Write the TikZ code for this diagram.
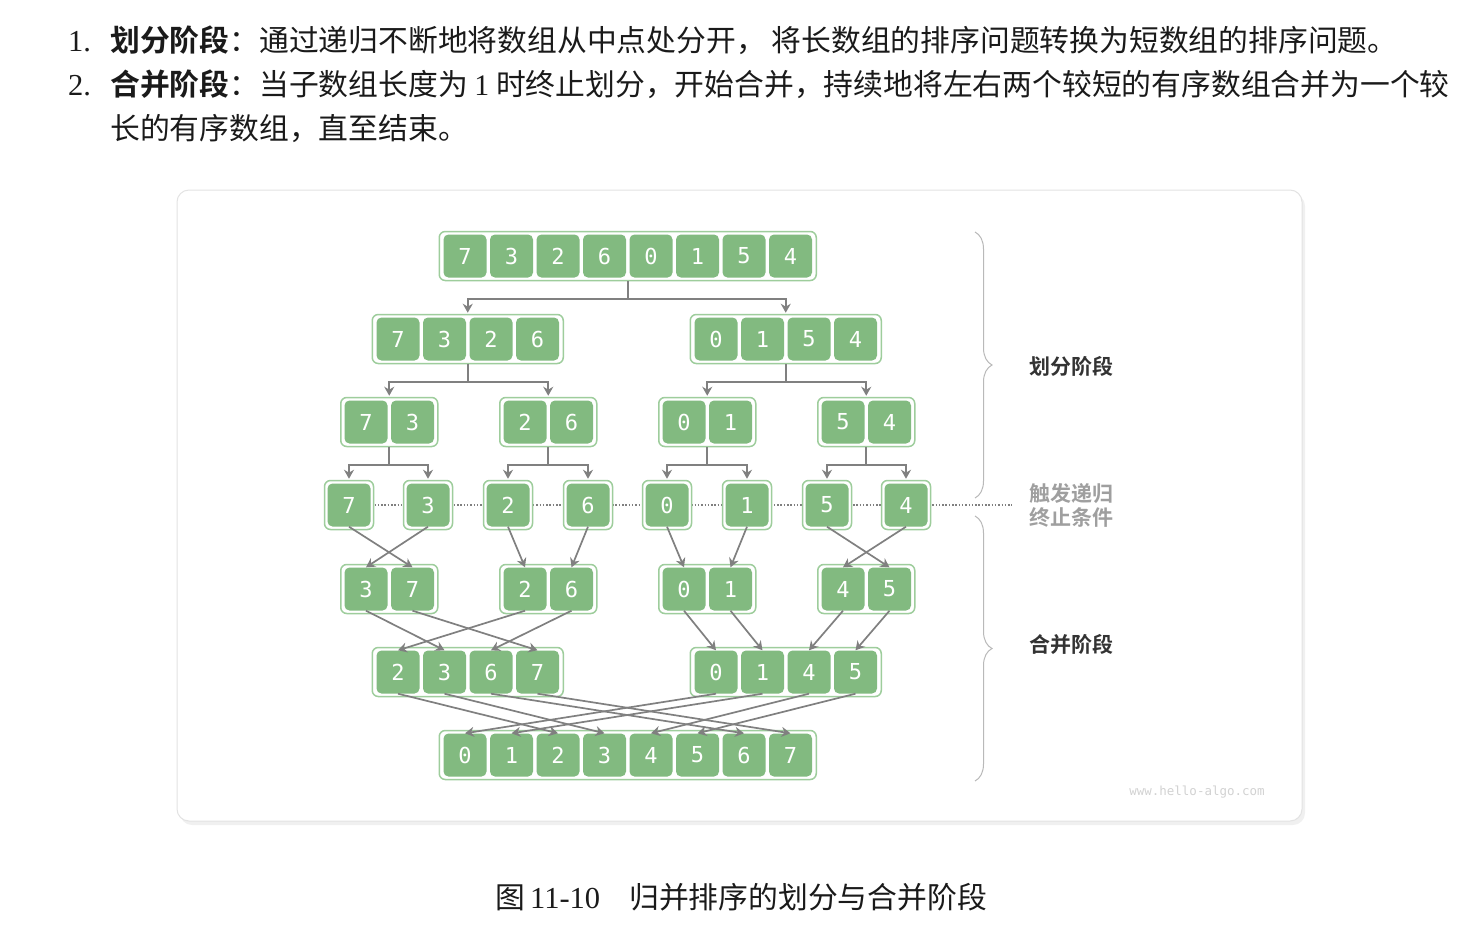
\documentclass[tikz,border=0pt]{standalone}
\usepackage{fontspec}
\setmainfont{Liberation Serif}
\newfontfamily\cjk{Noto Sans CJK SC}[BoldFont={Noto Sans CJK SC Bold}]
\newfontfamily\digitfont{DejaVu Sans Mono}
\usetikzlibrary{arrows.meta,decorations.pathreplacing}
\definecolor{cellgreen}{RGB}{130,186,128}
\definecolor{framegreen}{RGB}{158,205,156}
\definecolor{linegray}{RGB}{128,128,128}
\definecolor{bodytext}{RGB}{26,26,26}

\begin{document}
\begin{tikzpicture}[x=1pt,y=-1pt]

    \tikzset{
      cell/.style={
        fill=cellgreen,
        rounded corners=5,
        minimum width=43,
        minimum height=43,
        inner sep=0pt,
        text=white,
        font=\digitfont\fontsize{22}{22}\selectfont,
      },
      frame/.style={
        draw=framegreen,
        fill=white,
        line width=1.5,
        rounded corners=6,
        minimum height=49,
        inner sep=0pt,
      },
      conn/.style={
        draw=linegray,
        line width=1.7,
        -{Stealth[length=9,width=10]},
      },
      bodyline/.style={anchor=base west, inner sep=0pt, text=bodytext,
        font=\cjk\fontsize{29.8}{35}\selectfont},
      phase/.style={inner sep=0pt, font=\cjk\bfseries\fontsize{21}{25}\selectfont},
      phasebrace/.style={draw=gray!55, line width=1, decorate,
        decoration={brace, amplitude=17}},
    }
    \useasboundingbox (0,0) rectangle (1460,932);

    % text above the figure
    \node[bodyline, font=\fontsize{30.5}{35}\selectfont] (n1) at (68,51) {1.};
    \node[bodyline] (t1) at (110,51) {{\bfseries 划分阶段}：通过递归不断地将数组从中点处分开，\hspace{6pt}将长数组的排序问题转换为短数组的排序问题。};
    \node[bodyline, font=\fontsize{30.5}{35}\selectfont] (n2) at (68,95) {2.};
    \node[bodyline] (t2) at (110,95) {{\bfseries 合并阶段}：当子数组长度为 {\rmfamily 1} 时终止划分，开始合并，持续地将左右两个较短的有序数组合并为一个较};
    \node[bodyline] (t3) at (110,139) {长的有序数组，直至结束。};

    % panel
    \fill[gray!12, rounded corners=12] (180,194) rectangle (1305,825);
    \draw[gray!22, fill=white, line width=1, rounded corners=12] (177,190) rectangle (1302,821);

    % recursion end line
    \coordinate (dl) at (325,505);
    \coordinate (dr) at (1012,505);
    \draw[linegray, line width=1.3, dash pattern=on 1.5pt off 1.8pt] (dl) -- (dr);

    % frames
    \node[frame, minimum width=377] (fa) at (627.75,256) {};
    \foreach \n/\x in {fb1/467.75, fb2/785.75}
      \node[frame, minimum width=191] (\n) at (\x,339) {};
    \foreach \n/\x in {fc1/389.25, fc2/548.25, fc3/707.25, fc4/866.25}
      \node[frame, minimum width=97] (\n) at (\x,422) {};
    \foreach \n/\x in {fd1/349, fd2/428, fd3/508, fd4/588, fd5/667, fd6/747, fd7/827, fd8/906}
      \node[frame, minimum width=49] (\n) at (\x,505) {};
    \foreach \n/\x in {fe1/389.25, fe2/548.25, fe3/707.25, fe4/866.25}
      \node[frame, minimum width=97] (\n) at (\x,589) {};
    \foreach \n/\x in {ff1/467.75, ff2/785.75}
      \node[frame, minimum width=191] (\n) at (\x,672) {};
    \node[frame, minimum width=377] (fg) at (627.75,755) {};

    % cells
    \foreach \n/\x/\v in {a1/465/7, a2/511.5/3, a3/558/2, a4/604.5/6, a5/651/0, a6/697.5/1, a7/744/5, a8/790.5/4}
      \node[cell] (\n) at (\x,256) {\v};
    \foreach \n/\x/\v in {b1/398/7, b2/444.5/3, b3/491/2, b4/537.5/6, b5/716/0, b6/762.5/1, b7/809/5, b8/855.5/4}
      \node[cell] (\n) at (\x,339) {\v};
    \foreach \n/\x/\v in {c1/366/7, c2/412.5/3, c3/525/2, c4/571.5/6, c5/684/0, c6/730.5/1, c7/843/5, c8/889.5/4}
      \node[cell] (\n) at (\x,422) {\v};
    \foreach \n/\x/\v in {d1/349/7, d2/428/3, d3/508/2, d4/588/6, d5/667/0, d6/747/1, d7/827/5, d8/906/4}
      \node[cell] (\n) at (\x,505) {\v};
    \foreach \n/\x/\v in {e1/366/3, e2/412.5/7, e3/525/2, e4/571.5/6, e5/684/0, e6/730.5/1, e7/843/4, e8/889.5/5}
      \node[cell] (\n) at (\x,589) {\v};
    \foreach \n/\x/\v in {f1/398/2, f2/444.5/3, f3/491/6, f4/537.5/7, f5/716/0, f6/762.5/1, f7/809/4, f8/855.5/5}
      \node[cell] (\n) at (\x,672) {\v};
    \foreach \n/\x/\v in {g1/465/0, g2/511.5/1, g3/558/2, g4/604.5/3, g5/651/4, g6/697.5/5, g7/744/6, g8/790.5/7}
      \node[cell] (\n) at (\x,755) {\v};

    % divide
    \foreach \p/\c in {fa/fb1, fa/fb2, fb1/fc1, fb1/fc2, fb2/fc3, fb2/fc4,
                       fc1/fd1, fc1/fd2, fc2/fd3, fc2/fd4, fc3/fd5, fc3/fd6, fc4/fd7, fc4/fd8}
      \draw[conn, shorten >=1] (\p.south) -- ++(0,18) -| (\c.north);

    % merge
    \foreach \s/\t in {d1/e2, d2/e1, d3/e3, d4/e4, d5/e5, d6/e6, d7/e8, d8/e7,
                       e1/f2, e2/f4, e3/f1, e4/f3, e5/f5, e6/f6, e7/f7, e8/f8,
                       f1/g3, f2/g4, f3/g7, f4/g8, f5/g1, f6/g2, f7/g5, f8/g6}
      \draw[conn] (\s.south) -- (\t.north);

    % phases
    \coordinate (b1t) at (975,232);
    \coordinate (b1b) at (975,498);
    \coordinate (b2t) at (975,516);
    \coordinate (b2b) at (975,781);
    \draw[phasebrace] (b1t) -- (b1b);
    \draw[phasebrace] (b2t) -- (b2b);
    \node[phase, text=black!80] (p1) at (1071,366) {划分阶段};
    \node[phase, text=gray!75, align=left] (p2) at (1071,505) {触发递归\\[-1pt]终止条件};
    \node[phase, text=black!80] (p3) at (1071,644) {合并阶段};

    \node[inner sep=0pt, text=gray!35, font=\digitfont\fontsize{12.5}{14}\selectfont] (web) at (1197,792) {www.hello-algo.com};

    % caption
    \node[bodyline] (cap1) at (495,908) {图};
    \node[bodyline, font=\fontsize{30.5}{35}\selectfont] (cap2) at (530,908) {11-10};
    \node[bodyline] (cap3) at (629,908) {归并排序的划分与合并阶段};

\end{tikzpicture}
\end{document}
